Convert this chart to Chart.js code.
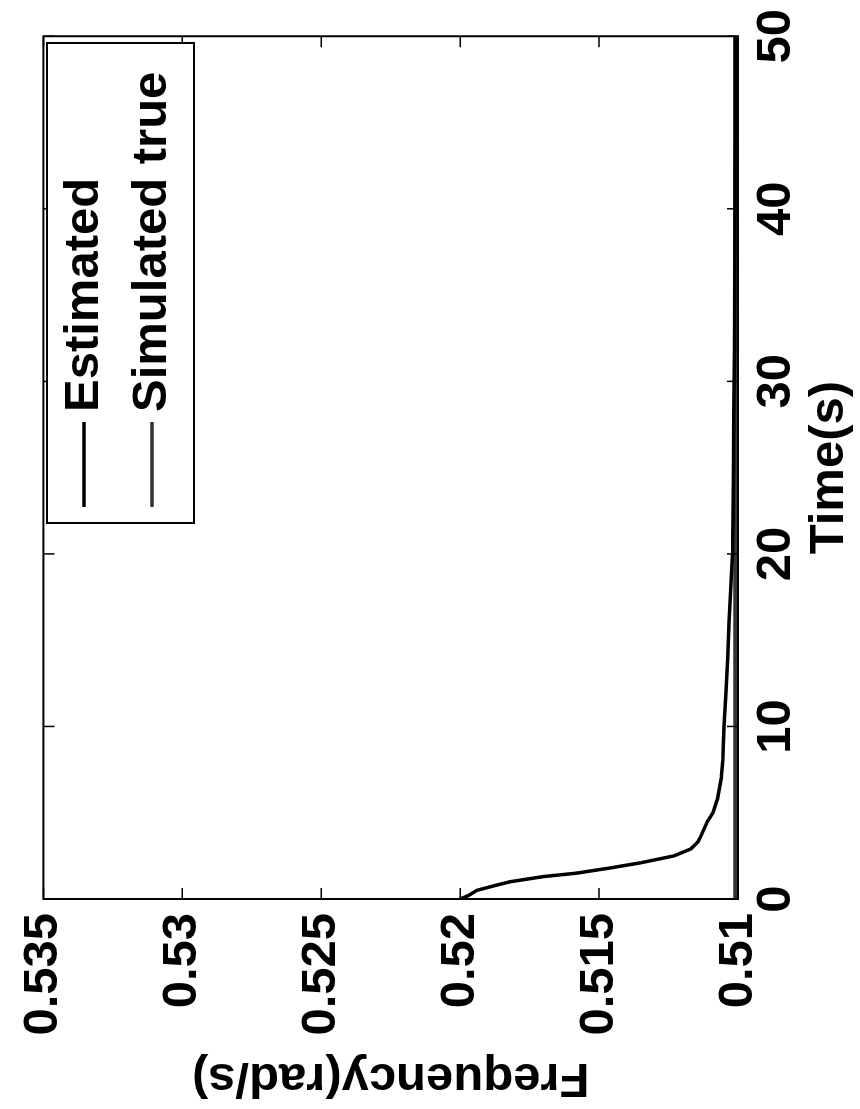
<!DOCTYPE html>
<html>
<head>
<meta charset="utf-8">
<script src="https://cdn.jsdelivr.net/npm/chart.js@4.4.1/dist/chart.umd.min.js"></script>
<style>
  html, body { margin: 0; padding: 0; background: #fff; }
  #page { position: relative; width: 860px; height: 1109px; overflow: hidden; background: #fff; }
  /* the figure is laid out landscape and turned a quarter turn counter-clockwise */
  #figure {
    position: absolute; left: 0; top: 0; width: 1109px; height: 860px;
    transform-origin: 0 0; transform: translate(0, 1109px) rotate(-90deg);
  }
</style>
</head>
<body>
<div id="page"><div id="figure"><canvas id="c" width="1109" height="860"></canvas></div></div>
<script>
// Axis ticks
const timeTicks = [0, 10, 20, 30, 40, 50];
const freqTicks = [0.51, 0.515, 0.52, 0.525, 0.53, 0.535];

// Estimated frequency (rad/s) against time (s)
const estTime = [0, 0.2, 0.5, 0.8, 1.0, 1.3, 1.5, 1.8, 2.1, 2.5, 2.9, 3.3, 3.6, 4.5, 5.0, 5.8, 7.0, 8.0,
                 10, 12, 14, 16, 18, 20, 22, 25, 28, 32, 36, 40, 45, 50];
const estFreq = [0.5200, 0.5197, 0.5194, 0.5187, 0.5182, 0.5170, 0.5158, 0.5146, 0.5135, 0.5123, 0.5117,
                 0.51145, 0.51135, 0.5111, 0.5109, 0.51074, 0.5106, 0.51055, 0.5105, 0.51043, 0.51037,
                 0.51032, 0.51026, 0.5102, 0.51018, 0.51016, 0.51015, 0.51013, 0.51012, 0.51011, 0.5101, 0.5101];

// Simulated true frequency
const trueTime = [0, 10, 20, 30, 40, 50];
const trueFreq = [0.5101, 0.5101, 0.5101, 0.5101, 0.5101, 0.5101];

const seriesNames = ['Estimated', 'Simulated true'];

const FONT = { family: '"Liberation Sans", Arial, Helvetica, sans-serif', size: 49, weight: 'bold' };

const toPoints = (xs, ys) => xs.map((t, i) => ({ x: t, y: ys[i] }));

// Box frame, inward ticks on all four sides, and the legend
const frameAndLegend = {
  id: 'frameAndLegend',
  afterDatasetsDraw(chart) {
    const { ctx, chartArea: a, scales: { x, y } } = chart;
    ctx.save();
    ctx.strokeStyle = '#000';
    ctx.lineWidth = 1.5;
    const L = 11;
    ctx.beginPath();
    x.ticks.forEach(t => {
      const px = x.getPixelForValue(t.value);
      ctx.moveTo(px, a.bottom); ctx.lineTo(px, a.bottom - L);
      ctx.moveTo(px, a.top); ctx.lineTo(px, a.top + L);
    });
    y.ticks.forEach(t => {
      const py = y.getPixelForValue(t.value);
      ctx.moveTo(a.left, py); ctx.lineTo(a.left + L, py);
      ctx.moveTo(a.right, py); ctx.lineTo(a.right - L, py);
    });
    ctx.stroke();
    ctx.lineWidth = 2;
    ctx.strokeRect(a.left, a.top, a.right - a.left, a.bottom - a.top);

    // legend box
    const bx = 586, by = 47, bw = 480, bh = 147;
    ctx.fillStyle = '#fff';
    ctx.fillRect(bx, by, bw, bh);
    ctx.lineWidth = 2;
    ctx.strokeRect(bx, by, bw, bh);
    const rows = [84, 152];
    chart.data.datasets.forEach((ds, i) => {
      ctx.strokeStyle = ds.borderColor;
      ctx.lineWidth = 3.5;
      ctx.beginPath();
      ctx.moveTo(602, rows[i]); ctx.lineTo(687, rows[i]);
      ctx.stroke();
      ctx.fillStyle = '#000';
      ctx.font = `${FONT.weight} ${FONT.size}px ${FONT.family}`;
      ctx.textAlign = 'left';
      ctx.textBaseline = 'middle';
      ctx.fillText(ds.label, 697, rows[i]);
    });
    ctx.restore();
  }
};

new Chart(document.getElementById('c'), {
  type: 'line',
  data: {
    datasets: [
      { label: seriesNames[0], data: toPoints(estTime, estFreq), borderColor: '#000', borderWidth: 3.5,
        pointRadius: 0, tension: 0, fill: false },
      { label: seriesNames[1], data: toPoints(trueTime, trueFreq), borderColor: '#333', borderWidth: 4,
        pointRadius: 0, tension: 0, fill: false }
    ]
  },
  options: {
    responsive: false,
    animation: false,
    devicePixelRatio: 1,
    layout: { padding: { top: 33, right: 32, left: 0, bottom: 0 } },
    plugins: { legend: { display: false }, tooltip: { enabled: false } },
    scales: {
      x: {
        type: 'linear', min: timeTicks[0], max: timeTicks[timeTicks.length - 1],
        afterBuildTicks: s => { s.ticks = timeTicks.map(v => ({ value: v })); },
        afterFit: s => { s.height = 122; },
        grid: { display: false, drawTicks: false },
        border: { display: false },
        ticks: { color: '#000', font: FONT, padding: 9, maxRotation: 0, autoSkip: false,
                 callback: v => String(v) },
        title: { display: true, text: 'Time(s)', color: '#000', font: FONT, padding: { top: 0, bottom: 1 } }
      },
      y: {
        type: 'linear', min: freqTicks[0], max: freqTicks[freqTicks.length - 1],
        afterBuildTicks: s => { s.ticks = freqTicks.map(v => ({ value: v })); },
        afterFit: s => { s.width = 210; },
        grid: { display: false, drawTicks: false },
        border: { display: false },
        ticks: { color: '#000', font: FONT, padding: 14, autoSkip: false,
                 callback: v => String(v) },
        title: { display: true, text: 'Frequency(rad/s)', color: '#000', font: FONT, padding: { top: 2, bottom: 0 } }
      }
    }
  },
  plugins: [frameAndLegend]
});
</script>
</body>
</html>
